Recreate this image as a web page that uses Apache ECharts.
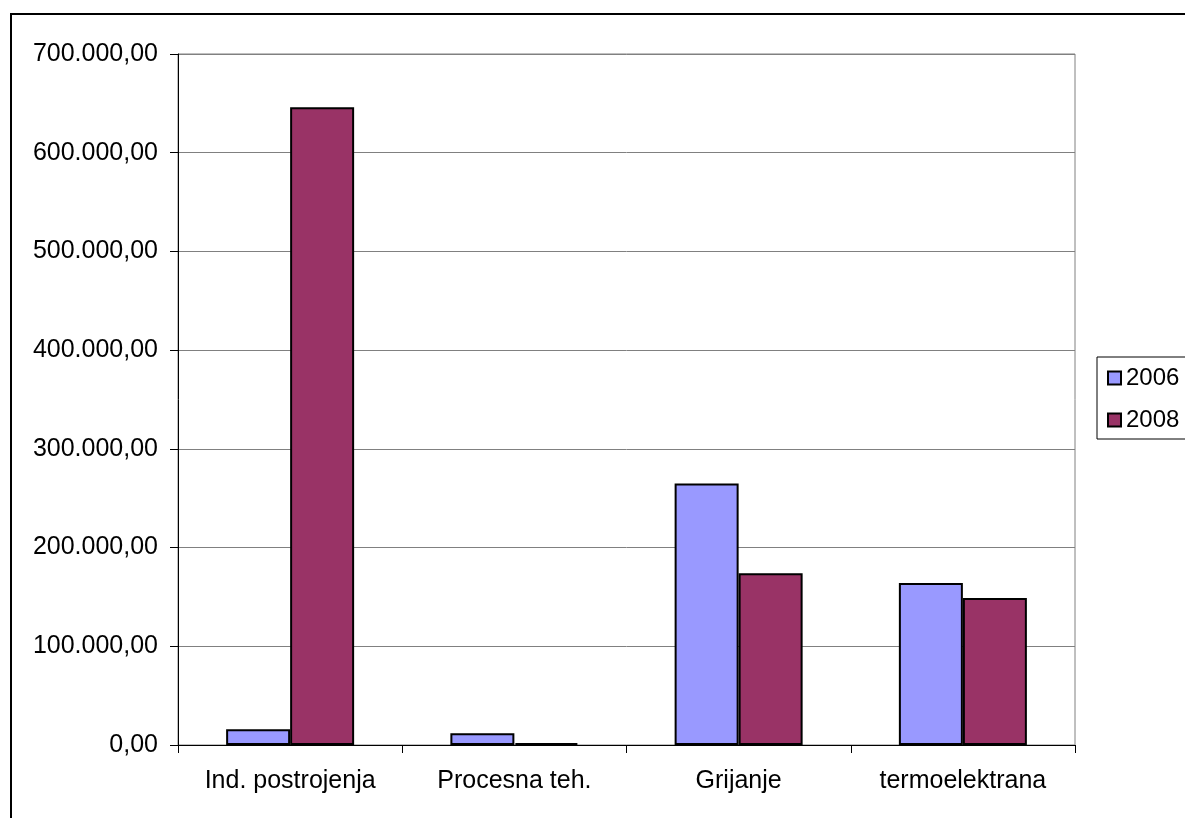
<!DOCTYPE html>
<html>
<head>
<meta charset="utf-8">
<script src="https://cdn.jsdelivr.net/npm/echarts@6/dist/echarts.min.js"></script>
<style>
  html, body { margin: 0; padding: 0; background: #fff; }
  #chart { width: 1185px; height: 818px; }
</style>
</head>
<body>
<div id="chart"></div>
<script>
// Sectors on the category axis
const categories = ['Ind. postrojenja', 'Procesna teh.', 'Grijanje', 'termoelektrana'];
// Series per year
const seriesNames = ['2006', '2008'];
const values2006 = [16000, 12000, 265000, 164000];
const values2008 = [646000, 2000, 174000, 149000];
// Value axis range
const yMin = 0;
const yMax = 700000;
const yStep = 100000;

// 700000 -> "700.000,00"
function fmt(v) {
  const s = Math.round(v).toString().replace(/\B(?=(\d{3})+(?!\d))/g, '.');
  return s + ',00';
}

const font = 'Liberation Sans, Arial, sans-serif';
const chart = echarts.init(document.getElementById('chart'), null, { renderer: 'canvas' });

chart.setOption({
  animation: false,
  backgroundColor: '#ffffff',
  textStyle: { fontFamily: font },
  grid: {
    left: 178, right: 110, top: 54, bottom: 73,
    show: true, borderColor: '#808080', borderWidth: 1
  },
  legend: {
    orient: 'vertical',
    left: 1097, top: 357,
    padding: [9, 12, 7, 10],
    itemWidth: 13, itemHeight: 13, itemGap: 18,
    icon: 'rect',
    borderColor: '#000', borderWidth: 1,
    backgroundColor: '#fff',
    textStyle: { fontSize: 24, lineHeight: 24, color: '#000', fontFamily: font },
    data: seriesNames
  },
  xAxis: {
    type: 'category',
    data: categories,
    boundaryGap: true,
    axisLine: { lineStyle: { color: '#000', width: 1 } },
    axisTick: { show: true, length: 8, alignWithLabel: false, lineStyle: { color: '#000' } },
    axisLabel: { fontSize: 25, color: '#000', margin: 24, fontFamily: font }
  },
  yAxis: {
    type: 'value',
    min: yMin, max: yMax, interval: yStep,
    axisLine: { show: true, lineStyle: { color: '#000', width: 1 } },
    axisTick: { show: true, length: 8, lineStyle: { color: '#000' } },
    axisLabel: { fontSize: 25, color: '#000', margin: 20, fontFamily: font, formatter: fmt },
    splitLine: { show: true, lineStyle: { color: '#808080', width: 1 } }
  },
  series: [
    {
      name: seriesNames[0], type: 'bar', data: values2006,
      barWidth: 64, barGap: '0%',
      itemStyle: { color: '#9999FF', borderColor: '#000', borderWidth: 2 }
    },
    {
      name: seriesNames[1], type: 'bar', data: values2008,
      barWidth: 64, barGap: '0%',
      itemStyle: { color: '#993366', borderColor: '#000', borderWidth: 2 }
    }
  ],
  graphic: [
    // outer frame around the figure
    { type: 'line', shape: { x1: 10, y1: 14, x2: 1185, y2: 14 }, style: { stroke: '#000', lineWidth: 2 } },
    { type: 'line', shape: { x1: 11, y1: 13, x2: 11, y2: 818 }, style: { stroke: '#000', lineWidth: 2 } }
  ]
});
</script>
</body>
</html>
